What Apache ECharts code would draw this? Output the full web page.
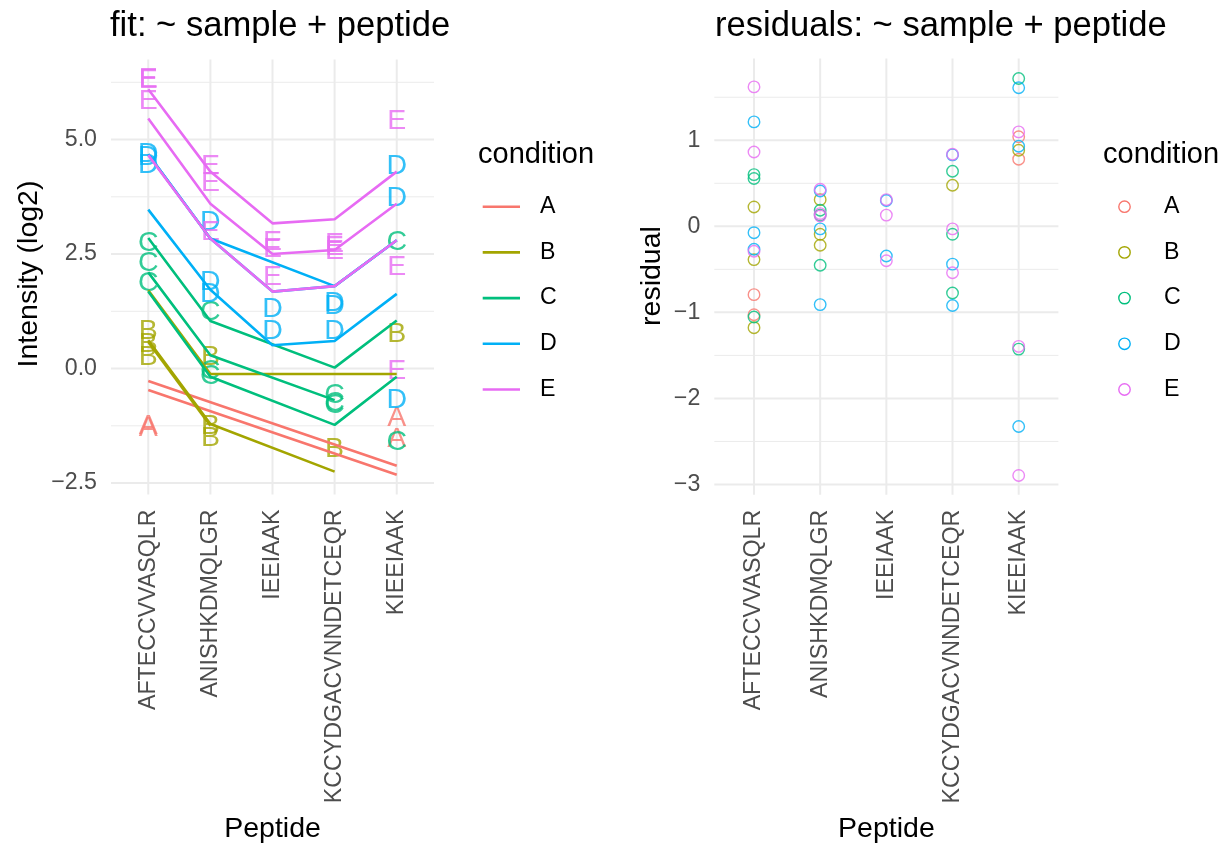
<!DOCTYPE html>
<html>
<head>
<meta charset="utf-8">
<script src="https://cdn.jsdelivr.net/npm/echarts@6/dist/echarts.min.js"></script>
<style>
html,body{margin:0;padding:0;background:#fff;}
#chart{width:1227px;height:846px;}
</style>
</head>
<body>
<div id="chart"></div>
<script>
// ---------- data ----------
const peptides = ["AFTECCVVASQLR", "ANISHKDMQLGR", "IEEIAAK", "KCCYDGACVNNDETCEQR", "KIEEIAAK"];
const conditions = ["A", "B", "C", "D", "E"];
const sampleNames = ["A1","A2","B1","B2","B3","C1","C2","C3","D1","D2","D3","E1","E2","E3"];
const sampleCondition = ["A","A","B","B","B","C","C","C","D","D","D","E","E","E"];

// fitted values (lines), per sample, per peptide
const fitted = [
  [-0.27, null, null, null, -2.12],
  [-0.47, null, null, null, -2.32],
  [1.71, -0.12, null, null, -0.12],
  [0.62, -1.21, null, -2.25, null],
  [0.58, -1.25, null, null, null],
  [2.85, 1.04, null, 0.02, 1.05],
  [2.10, 0.29, null, -0.69, null],
  [1.68, -0.18, null, -1.23, -0.18],
  [3.47, 1.72, 0.51, 0.60, 1.63],
  [4.68, 2.84, null, 1.80, 2.80],
  [4.68, 2.84, 1.68, 1.80, 2.80],
  [6.10, 4.30, 3.17, 3.26, 4.30],
  [5.46, 3.60, 2.50, 2.59, 3.60],
  [4.66, 2.84, 1.68, 1.80, 2.80]
];
// observed intensities (text letters)
const observed = [
  [-1.30, null, null, null, -1.08],
  [-1.26, null, null, null, -1.54],
  [0.53, 0.24, null, null, 0.76],
  [0.82, -1.25, null, -1.77, null],
  [0.26, -1.52, null, null, null],
  [1.87, 1.23, null, -0.76, 2.77],
  [2.73, -0.16, null, -0.80, null],
  [2.30, -0.06, null, -0.59, -1.61],
  [4.68, 1.62, 0.81, 1.43, -0.70],
  [4.61, 3.20, null, 1.36, 4.41],
  [4.45, 1.88, 1.30, 0.82, 3.73],
  [5.83, 4.42, 2.77, 2.72, 5.40],
  [6.32, 4.04, 2.60, 2.56, 2.22],
  [6.30, 2.97, 2.00, 2.64, -0.05]
];
// residuals (right panel)
const residual = [
  [-1.027, null, null, null, 1.04],
  [-0.794, null, null, null, 0.78],
  [-1.178, 0.31, null, null, 0.884],
  [0.225, -0.093, null, 0.477, null],
  [-0.387, -0.22, null, null, null],
  [-1.054, 0.186, null, -0.775, 1.717],
  [0.60, -0.453, null, -0.093, null],
  [0.555, 0.13, null, 0.64, -1.427],
  [1.213, -0.03, 0.30, 0.83, -2.326],
  [-0.074, 0.41, null, -0.44, 1.61],
  [-0.267, -0.91, -0.345, -0.92, 0.93],
  [-0.29, 0.12, -0.40, -0.54, 1.097],
  [0.864, 0.43, 0.13, -0.03, -1.395],
  [1.62, 0.147, 0.31, 0.837, -2.895]
];
const leftYTicks = [-2.5, 0, 2.5, 5];
const leftYMinor = [-1.25, 1.25, 3.75, 6.25];
const rightYTicks = [-3, -2, -1, 0, 1];
const rightYMinor = [-2.5, -1.5, -0.5, 0.5, 1.5];
const xPositions = [1, 2, 3, 4, 5];

// ---------- styles ----------
const palette = {A: "#F8766D", B: "#A3A500", C: "#00BF7D", D: "#00B0F6", E: "#E76BF3"};
const FONT = "'Liberation Sans', Arial, Helvetica, sans-serif";
const GRID_COL = "#EBEBEB";
const AXIS_TXT = "#4D4D4D";
const AXIS_FS = 23.2;

const L = {left: 111, top: 59.4, width: 323, height: 435.1};
const R = {left: 714.3, top: 58.5, width: 344.1, height: 436.3};

function toPts(arr) {
  const out = [];
  arr.forEach((v, j) => { if (v !== null) out.push([xPositions[j], v]); });
  return out;
}
function minusFmt(s) { return String(s).replace('-', '\u2212'); }

function gridSeries(idx, values, orient, width) {
  return {
    type: 'custom', xAxisIndex: idx, yAxisIndex: idx, z: 0, silent: true, clip: false,
    data: values.map(v => orient === 'h' ? [3, v] : [v, 0]),
    renderItem: function (params, api) {
      const cs = params.coordSys;
      if (orient === 'h') {
        const y = api.coord([3, api.value(1)])[1];
        return {type: 'line', shape: {x1: cs.x, y1: y, x2: cs.x + cs.width, y2: y},
                style: {stroke: GRID_COL, lineWidth: width}};
      } else {
        const x = api.coord([api.value(0), 0])[0];
        return {type: 'line', shape: {x1: x, y1: cs.y, x2: x, y2: cs.y + cs.height},
                style: {stroke: GRID_COL, lineWidth: width}};
      }
    }
  };
}

const series = [];
series.push(gridSeries(0, leftYMinor, 'h', 1));
series.push(gridSeries(0, leftYTicks, 'h', 2));
series.push(gridSeries(0, xPositions, 'v', 2));
series.push(gridSeries(1, rightYMinor, 'h', 1));
series.push(gridSeries(1, rightYTicks, 'h', 2));
series.push(gridSeries(1, xPositions, 'v', 2));

// observed letters
sampleNames.forEach((s, i) => {
  const c = sampleCondition[i];
  series.push({
    type: 'scatter', name: c, xAxisIndex: 0, yAxisIndex: 0, z: 2, silent: true,
    symbol: 'circle', symbolSize: 1,
    itemStyle: {color: 'rgba(0,0,0,0)'},
    label: {show: true, position: 'inside', formatter: c, color: palette[c],
            fontSize: 28.5, fontFamily: FONT},
    data: toPts(observed[i])
  });
});
// fitted lines
sampleNames.forEach((s, i) => {
  const c = sampleCondition[i];
  series.push({
    type: 'line', name: c, xAxisIndex: 0, yAxisIndex: 0, z: 3, silent: true,
    symbol: 'none', showSymbol: false,
    lineStyle: {color: palette[c], width: 2.6},
    data: toPts(fitted[i])
  });
});
// residual circles
sampleNames.forEach((s, i) => {
  const c = sampleCondition[i];
  series.push({
    type: 'scatter', name: c, xAxisIndex: 1, yAxisIndex: 1, z: 3, silent: true,
    symbol: 'circle', symbolSize: 11.5,
    itemStyle: {color: 'rgba(0,0,0,0)', borderColor: palette[c], borderWidth: 1.4},
    data: toPts(residual[i])
  });
});

function xAxisCfg(idx) {
  return {
    type: 'value', gridIndex: idx, min: 0.4, max: 5.6,
    splitLine: {show: false}, axisLine: {show: false}, axisTick: {show: false},
    axisLabel: {customValues: xPositions, formatter: v => peptides[Math.round(v) - 1],
                rotate: 90, fontSize: AXIS_FS, color: AXIS_TXT, fontFamily: FONT, margin: 15}
  };
}

const graphics = [];
function txt(x, y, text, size, opts) {
  graphics.push(Object.assign({
    type: 'text', x: x, y: y, silent: true,
    style: {text: text, font: size + 'px ' + FONT, fill: '#000',
            textAlign: 'left', textVerticalAlign: 'middle'}
  }, opts || {}));
}
// titles
txt(110, 26, 'fit: ~ sample + peptide', 34.6);
txt(715, 26, 'residuals: ~ sample + peptide', 34.6);
// axis titles
graphics.push({type: 'text', x: 272.5, y: 829, silent: true,
  style: {text: 'Peptide', font: '28.5px ' + FONT, fill: '#000', textAlign: 'center', textVerticalAlign: 'middle'}});
graphics.push({type: 'text', x: 886.4, y: 829, silent: true,
  style: {text: 'Peptide', font: '28.5px ' + FONT, fill: '#000', textAlign: 'center', textVerticalAlign: 'middle'}});
graphics.push({type: 'text', x: 29, y: 274, rotation: Math.PI / 2, silent: true,
  style: {text: 'Intensity (log2)', font: '28.5px ' + FONT, fill: '#000', textAlign: 'center', textVerticalAlign: 'middle'}});
graphics.push({type: 'text', x: 652, y: 276, rotation: Math.PI / 2, silent: true,
  style: {text: 'residual', font: '28.5px ' + FONT, fill: '#000', textAlign: 'center', textVerticalAlign: 'middle'}});
// legends
txt(478, 155, 'condition', 29);
txt(1103, 155, 'condition', 29);
conditions.forEach((c, k) => {
  const y = 206.7 + k * 45.7;
  graphics.push({type: 'line', silent: true, shape: {x1: 482.7, y1: y, x2: 520, y2: y},
                 style: {stroke: palette[c], lineWidth: 2.6}});
  txt(540, y, c, AXIS_FS);
  graphics.push({type: 'circle', silent: true, shape: {cx: 1124.5, cy: y, r: 5.7},
                 style: {stroke: palette[c], fill: 'none', lineWidth: 1.4}});
  txt(1164, y, c, AXIS_FS);
});

const option = {
  animation: false,
  backgroundColor: '#ffffff',
  textStyle: {fontFamily: FONT},
  grid: [
    {left: L.left, top: L.top, width: L.width, height: L.height, containLabel: false},
    {left: R.left, top: R.top, width: R.width, height: R.height, containLabel: false}
  ],
  xAxis: [xAxisCfg(0), xAxisCfg(1)],
  yAxis: [
    {type: 'value', gridIndex: 0, min: -2.75, max: 6.75,
     splitLine: {show: false}, axisLine: {show: false}, axisTick: {show: false},
     axisLabel: {customValues: leftYTicks, formatter: v => minusFmt(v.toFixed(1)),
                 fontSize: AXIS_FS, color: AXIS_TXT, fontFamily: FONT, margin: 14}},
    {type: 'value', gridIndex: 1, min: -3.12, max: 1.95,
     splitLine: {show: false}, axisLine: {show: false}, axisTick: {show: false},
     axisLabel: {customValues: rightYTicks, formatter: v => minusFmt(v),
                 fontSize: AXIS_FS, color: AXIS_TXT, fontFamily: FONT, margin: 14}}
  ],
  series: series,
  graphic: graphics
};

const chart = echarts.init(document.getElementById('chart'), null, {renderer: 'canvas'});
chart.setOption(option);
</script>
</body>
</html>
